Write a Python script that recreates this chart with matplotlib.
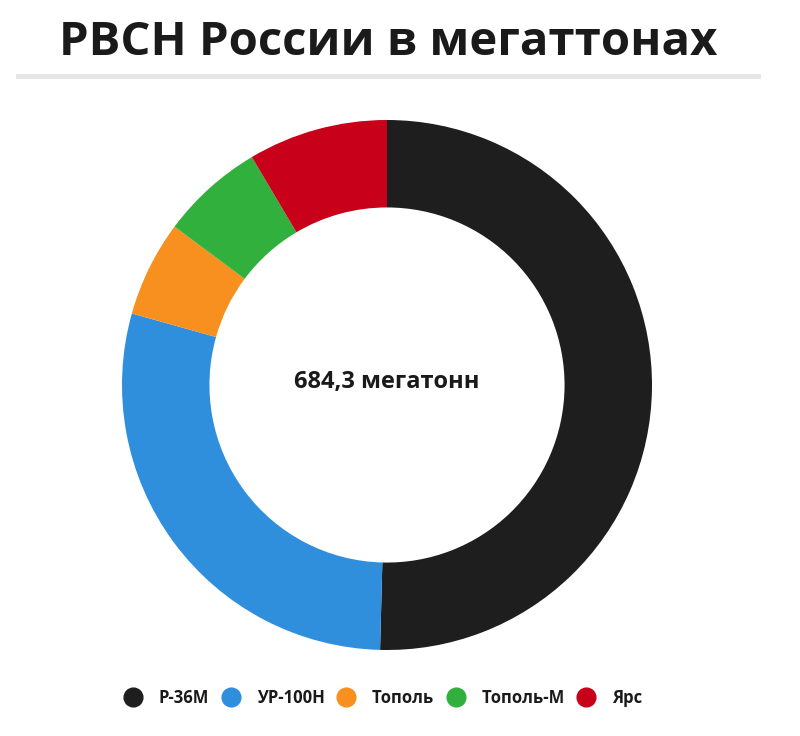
import matplotlib
matplotlib.use('Agg')
import matplotlib.pyplot as plt
from matplotlib.lines import Line2D

plt.rcParams['font.family'] = ['Open Sans', 'DejaVu Sans']

labels = ['Р-36М', 'УР-100Н', 'Тополь', 'Тополь-М', 'Ярс']
values = [345.0, 198.0, 40.0, 43.0, 58.3]
colors = ['#1e1e1e', '#2f8fdc', '#f7901e', '#31b03d', '#c8001a']
total_text = '684,3 мегатонн'
title = 'РВСН России в мегаттонах'

W, H = 800, 736
fig = plt.figure(figsize=(W / 100, H / 100), dpi=100)
fig.patch.set_facecolor('white')

# заголовок и серая линия под ним
fig.text(388 / W, 1 - 55 / H, title, ha='center', va='baseline',
         fontsize=34, fontweight='bold', color='#1a1a1a')
fig.add_artist(Line2D([18 / W, 758 / W], [1 - 76 / H, 1 - 76 / H],
                      color='#e6e6e6', lw=3.5))

# кольцевая диаграмма
cx, cy, r = 387, 385, 265
ax = fig.add_axes([(cx - r) / W, (H - cy - r) / H, 2 * r / W, 2 * r / H])
ax.pie(values, colors=colors, startangle=90, counterclock=False, radius=1,
       wedgeprops=dict(width=0.33, edgecolor='none'))
ax.set_xlim(-1, 1)
ax.set_ylim(-1, 1)
ax.set_aspect('equal')
ax.axis('off')
ax.text(0, 0.01, total_text, ha='center', va='center', fontsize=17,
        fontweight='bold', color='#1a1a1a')

# легенда
handles = [Line2D([], [], marker='o', ls='', markersize=13.5, color=c) for c in colors]
leg = fig.legend(handles, labels, loc='center left', bbox_to_anchor=(123 / W, 1 - 698 / H),
                 ncol=5, frameon=False, handlelength=1.2, handletextpad=0.96,
                 columnspacing=0.68, borderpad=0, borderaxespad=0,
                 prop={'weight': 'bold', 'size': 12})
for t in leg.get_texts():
    t.set_color('#1a1a1a')

fig.savefig('out.png', dpi=100)
